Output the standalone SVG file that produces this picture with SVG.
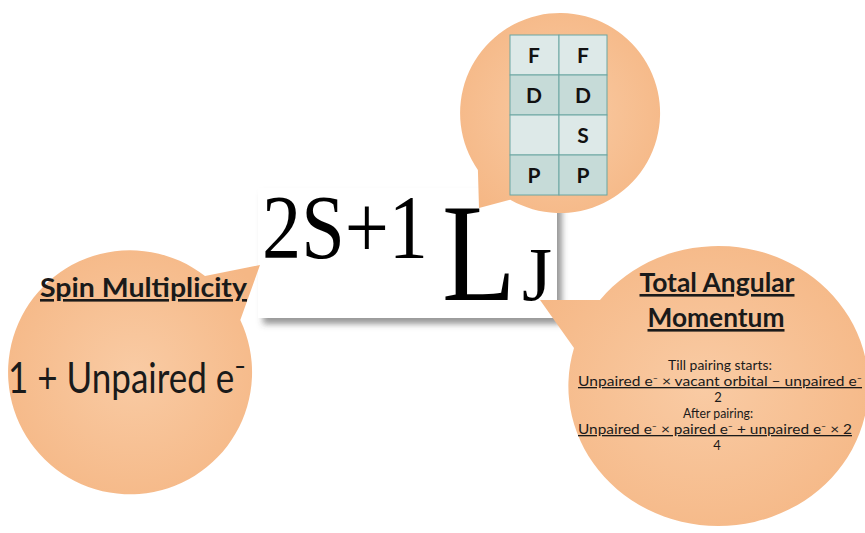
<svg xmlns="http://www.w3.org/2000/svg" width="865" height="533" viewBox="0 0 865 533">
  <defs>
    <radialGradient id="orange" cx="0.5" cy="0.5" r="0.6">
      <stop offset="0" stop-color="#f9cba4"/>
      <stop offset="1" stop-color="#f5b785"/>
    </radialGradient>
    <filter id="shadow" x="-5%" y="-5%" width="115%" height="125%">
      <feDropShadow dx="5" dy="6" stdDeviation="3" flood-color="#444" flood-opacity="0.55"/>
    </filter>
    <style>
      .bubble { fill: url(#orange); }
      .serif { font-family: "Liberation Serif", "Times New Roman", serif; fill: #000; }
      .sans { font-family: Lato, "Open Sans", "DejaVu Sans", sans-serif; fill: #1a1a1a; }
      .bold { font-weight: bold; }
      .ul { text-decoration: underline; }
      .cell-light { fill: #dde9e8; stroke: #6aa6a2; stroke-width: 1; }
      .cell-dark { fill: #c6dbd8; stroke: #6aa6a2; stroke-width: 1; }
      .cell-text { font-family: Lato, "Open Sans", sans-serif; font-weight: bold; font-size: 21px; fill: #111; text-anchor: middle; }
      .small { font-size: 13px; text-anchor: middle; }
    </style>
  </defs>

  <rect width="865" height="533" fill="#ffffff"/>

  <!-- central term symbol box -->
  <g id="term-box">
    <rect x="258" y="188" width="299" height="130" fill="#ffffff" filter="url(#shadow)"/>
    <text class="serif" x="262" y="258" font-size="90" textLength="166" lengthAdjust="spacingAndGlyphs">2S+1</text>
    <text class="serif" transform="translate(442,300) scale(0.87,1)" font-size="139">L</text>
    <text class="serif" x="522" y="300" font-size="76" textLength="30" lengthAdjust="spacingAndGlyphs">J</text>
  </g>

  <g id="connectors"></g>

  <!-- left bubble: spin multiplicity -->
  <g id="bubble-spin">
    <path class="bubble" d="M205,276 L260,265 L240.3,320 A122,122 0 1 1 205,276 Z"/>
    <text class="sans bold ul" x="40" y="297" font-size="26" textLength="207" lengthAdjust="spacingAndGlyphs">Spin Multiplicity</text>
    <text class="sans" x="8" y="393" font-size="42" textLength="238" lengthAdjust="spacingAndGlyphs">1 + Unpaired e⁻</text>
  </g>

  <!-- top bubble: orbital table -->
  <g id="bubble-table">
    <path class="bubble" d="M510.2,199.7 L479,208 L477.9,170 A100,100 0 1 1 510.2,199.7 Z"/>
    <rect class="cell-light" x="510" y="35" width="49" height="40"/>
    <rect class="cell-light" x="559" y="35" width="48" height="40"/>
    <rect class="cell-dark" x="510" y="75" width="49" height="40"/>
    <rect class="cell-dark" x="559" y="75" width="48" height="40"/>
    <rect class="cell-light" x="510" y="115" width="49" height="40"/>
    <rect class="cell-light" x="559" y="115" width="48" height="40"/>
    <rect class="cell-dark" x="510" y="155" width="49" height="40"/>
    <rect class="cell-dark" x="559" y="155" width="48" height="40"/>
    <text class="cell-text" x="534" y="63">F</text>
    <text class="cell-text" x="583" y="63">F</text>
    <text class="cell-text" x="534" y="103">D</text>
    <text class="cell-text" x="583" y="103">D</text>
    <text class="cell-text" x="583" y="143">S</text>
    <text class="cell-text" x="534" y="183">P</text>
    <text class="cell-text" x="583" y="183">P</text>
  </g>

  <!-- right bubble: total angular momentum -->
  <g id="bubble-J">
    <path class="bubble" d="M600,300 L540,300 L574,348 A150,140 0 1 0 600,300 Z"/>
    <text class="sans bold ul" x="717" y="292" font-size="26" text-anchor="middle" textLength="155" lengthAdjust="spacingAndGlyphs">Total Angular</text>
    <text class="sans bold ul" x="716" y="327" font-size="26" text-anchor="middle" textLength="137" lengthAdjust="spacingAndGlyphs">Momentum</text>
    <text class="sans small" x="720" y="370" textLength="104" lengthAdjust="spacingAndGlyphs">Till pairing starts:</text>
    <text class="sans small ul" x="720" y="386" textLength="284" lengthAdjust="spacingAndGlyphs">Unpaired e⁻ × vacant orbital – unpaired e⁻</text>
    <text class="sans small" x="718" y="402">2</text>
    <text class="sans small" x="718" y="418" textLength="70" lengthAdjust="spacingAndGlyphs">After pairing:</text>
    <text class="sans small ul" x="715" y="434" textLength="274" lengthAdjust="spacingAndGlyphs">Unpaired e⁻ × paired e⁻ + unpaired e⁻ × 2</text>
    <text class="sans small" x="717" y="450">4</text>
  </g>
</svg>
